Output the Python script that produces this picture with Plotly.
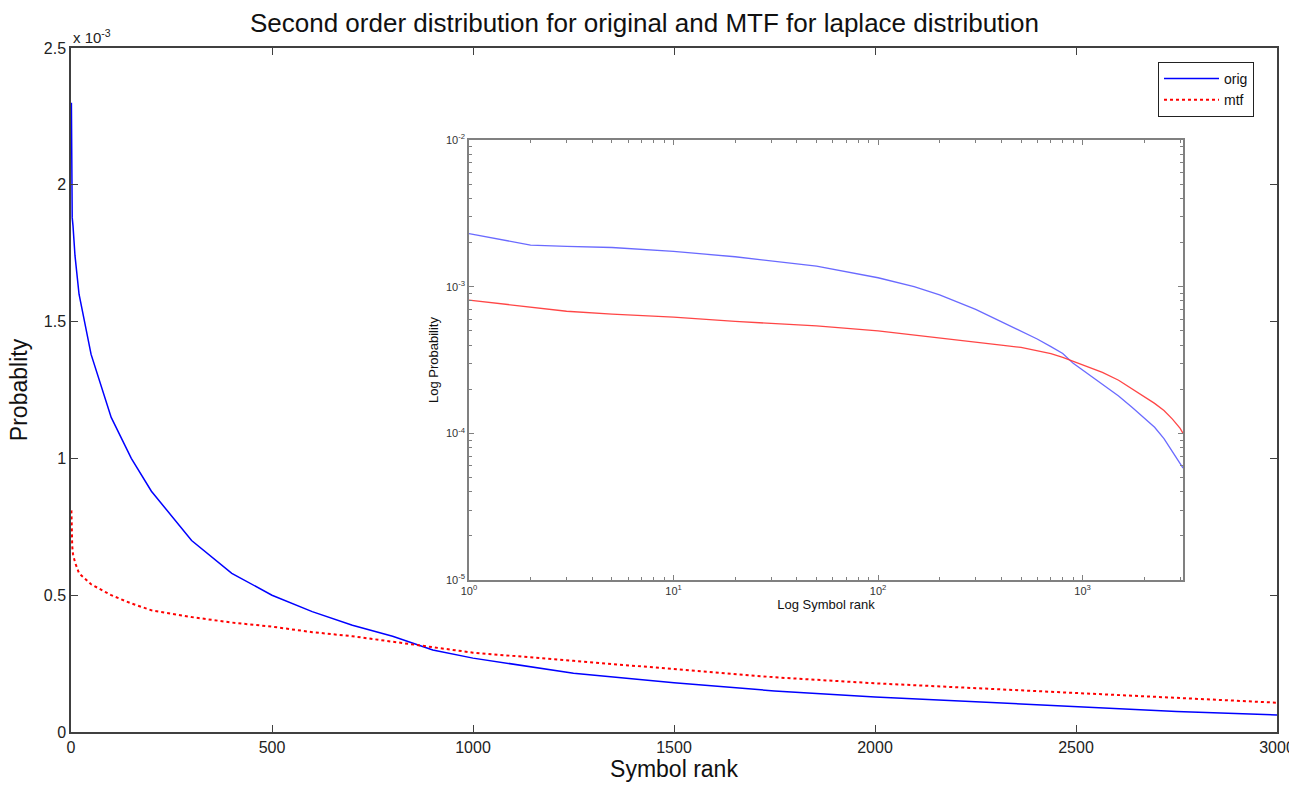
import plotly.graph_objects as go

# ---- data ----
ranks = [1, 2, 3, 5, 10, 20, 50, 100, 150, 200, 300, 400, 500, 600, 700, 800,
         900, 1000, 1250, 1500, 1750, 2000, 2250, 2500, 2750, 3000, 3100]
orig = [2.30e-3, 1.92e-3, 1.88e-3, 1.85e-3, 1.74e-3, 1.60e-3, 1.38e-3, 1.15e-3,
        1.00e-3, 0.88e-3, 0.70e-3, 0.58e-3, 0.50e-3, 0.44e-3, 0.39e-3, 0.35e-3,
        0.30e-3, 0.27e-3, 0.215e-3, 0.18e-3, 0.15e-3, 0.128e-3, 0.11e-3,
        0.092e-3, 0.075e-3, 0.062e-3, 0.058e-3]
mtf = [0.81e-3, 0.72e-3, 0.68e-3, 0.65e-3, 0.62e-3, 0.58e-3, 0.54e-3, 0.50e-3,
       0.47e-3, 0.445e-3, 0.42e-3, 0.40e-3, 0.385e-3, 0.365e-3, 0.35e-3,
       0.33e-3, 0.31e-3, 0.29e-3, 0.26e-3, 0.23e-3, 0.20e-3, 0.178e-3, 0.16e-3,
       0.143e-3, 0.125e-3, 0.108e-3, 0.10e-3]

y_ticks = [0, 0.5e-3, 1.0e-3, 1.5e-3, 2.0e-3, 2.5e-3]
y_ticktext = ["0", "0.5", "1", "1.5", "2", "2.5"]
x_ticks = [0, 500, 1000, 1500, 2000, 2500, 3000]
inset_xt = [1, 10, 100, 1000]
inset_xtext = ["10<sup>0</sup>", "10<sup>1</sup>", "10<sup>2</sup>", "10<sup>3</sup>"]
inset_yt = [1e-5, 1e-4, 1e-3, 1e-2]
inset_ytext = ["10<sup>-5</sup>", "10<sup>-4</sup>", "10<sup>-3</sup>", "10<sup>-2</sup>"]

FONT = "Liberation Sans, Arial, sans-serif"
BLUE = "#0000ff"
RED = "#ff0000"
FRAME = "#404040"

fig = go.Figure()
fig.add_trace(go.Scatter(x=ranks, y=orig, mode="lines", name="orig",
                         line=dict(color=BLUE, width=1.5), xaxis="x", yaxis="y"))
fig.add_trace(go.Scatter(x=ranks, y=mtf, mode="lines", name="mtf",
                         line=dict(color=RED, width=2, dash="dot"), xaxis="x", yaxis="y"))
fig.add_trace(go.Scatter(x=ranks, y=orig, mode="lines", showlegend=False,
                         line=dict(color="rgba(90,90,255,0.9)", width=1.3), xaxis="x2", yaxis="y2"))
fig.add_trace(go.Scatter(x=ranks, y=mtf, mode="lines", showlegend=False,
                         line=dict(color="rgba(255,50,50,0.9)", width=1.3), xaxis="x2", yaxis="y2"))

L, R, T, B = 71, 12, 48, 55
W, H = 1289, 787
pw, ph = W - L - R, H - T - B
ix0, ix1, iy0, iy1 = 469, 1183, 140, 580
dx = [(ix0 - L) / pw, (ix1 - L) / pw]
dy = [(H - B - iy1) / ph, (H - B - iy0) / ph]

axis_common = dict(showline=True, linecolor=FRAME, linewidth=1.5, mirror="allticks",
                   ticks="inside", ticklen=7, tickcolor=FRAME, showgrid=False,
                   zeroline=False, ticklabeloverflow="allow", automargin=False,
                   tickfont=dict(family=FONT, size=16, color="#222"))

fig.update_layout(
    width=W, height=H, margin=dict(l=L, r=R, t=T, b=B, autoexpand=False),
    paper_bgcolor="white", plot_bgcolor="white",
    font=dict(family=FONT, color="#111"),
    title=dict(text="Second order distribution for original and MTF for laplace distribution",
               x=0.5, xanchor="center", y=1 - 23 / H, yanchor="middle",
               font=dict(family=FONT, size=26, color="#111")),
    xaxis=dict(axis_common, range=[0, 3000], tickvals=x_ticks,
               title=dict(text="Symbol rank", font=dict(family=FONT, size=23), standoff=4)),
    yaxis=dict(axis_common, range=[0, 2.5e-3], tickvals=y_ticks, ticktext=y_ticktext,
               title=dict(text="Probablity", font=dict(family=FONT, size=23), standoff=10)),
    xaxis2=dict(type="log", domain=dx, anchor="y2", range=[0, 3.491],
                showline=True, linecolor="#808080", linewidth=1.5, mirror="allticks",
                ticks="inside", ticklen=5, tickcolor="#808080", showgrid=False, zeroline=False,
                tickvals=inset_xt, ticktext=inset_xtext,
                tickfont=dict(family=FONT, size=11, color="#333"),
                minor=dict(ticks="inside", ticklen=3, tickcolor="#808080", showgrid=False,
                           tickvals=[2, 3, 4, 5, 6, 7, 8, 9, 20, 30, 40, 50, 60, 70, 80, 90,
                                     200, 300, 400, 500, 600, 700, 800, 900, 2000, 3000]),
                title=dict(text="Log Symbol rank", font=dict(family=FONT, size=13), standoff=4)),
    yaxis2=dict(type="log", domain=dy, anchor="x2", range=[-5, -2],
                showline=True, linecolor="#808080", linewidth=1.5, mirror="allticks",
                ticks="inside", ticklen=5, tickcolor="#808080", showgrid=False, zeroline=False,
                tickvals=inset_yt, ticktext=inset_ytext,
                tickfont=dict(family=FONT, size=11, color="#333"),
                minor=dict(ticks="inside", ticklen=3, tickcolor="#808080", showgrid=False,
                           tickvals=[m * 10 ** e for e in (-5, -4, -3) for m in range(2, 10)]),
                title=dict(text="Log Probability", font=dict(family=FONT, size=13), standoff=4)),
    legend=dict(x=(1158 - L) / pw, y=(H - B - 62) / ph, xanchor="left", yanchor="top",
                bgcolor="white", bordercolor="#222", borderwidth=1, itemwidth=55,
                font=dict(family=FONT, size=14, color="#111"), tracegroupgap=0),
    annotations=[dict(text="x 10<sup>-3</sup>", xref="paper", yref="paper",
                      x=0, y=1, xanchor="left", yanchor="bottom", showarrow=False,
                      font=dict(family=FONT, size=15, color="#222"), yshift=0)],
    shapes=[dict(type="rect", xref="paper", yref="paper", x0=dx[0], x1=dx[1], y0=dy[0], y1=dy[1],
                 fillcolor="white", line=dict(width=0), layer="below")],
)

fig.write_html("out.html")
